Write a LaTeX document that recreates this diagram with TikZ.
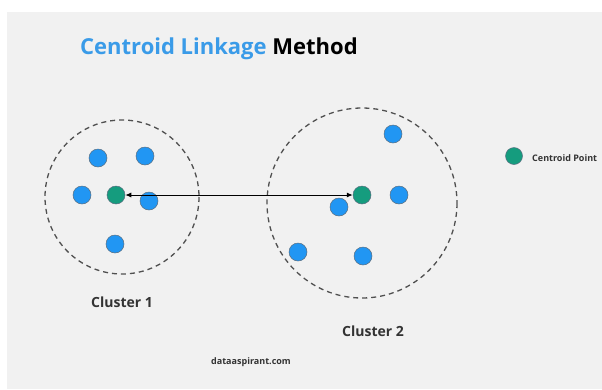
\documentclass[tikz,border=0pt]{standalone}
\usepackage{fontspec}
\setmainfont{Open Sans}
\usetikzlibrary{arrows.meta}
\definecolor{bg}{HTML}{F1F1F1}
\definecolor{ptblue}{HTML}{2196F3}
\definecolor{ptgreen}{HTML}{159C7E}
\definecolor{ttlblue}{HTML}{3A9BE8}
\definecolor{dotline}{HTML}{5A6E80}
\definecolor{lbl}{HTML}{333333}
\tikzset{
  pt/.style={circle, fill=ptblue, draw=dotline, line width=0.5pt, minimum size=18pt, inner sep=0pt},
  cpt/.style={pt, fill=ptgreen},
  cluster/.style={draw={rgb,255:red,80;green,80;blue,80}, line width=1.3pt, dash pattern=on 5pt off 4pt},
  lab/.style={font=\bfseries, text=lbl, inner sep=0pt},
}
\begin{document}
\begin{tikzpicture}[x=1pt,y=-1pt]
\useasboundingbox (0,0) rectangle (602,389);
\fill[white] (0,0) rectangle (602,389);
\fill[bg] (7,12) rectangle (602,389);
% title
\node[inner sep=0pt, font=\bfseries\fontsize{22}{26}\selectfont, anchor=west] (title) at (80,49) {\textcolor{ttlblue}{Centroid Linkage} \textcolor{black}{Method}};
% clusters
\draw[cluster] (122,197) circle (77);
\draw[cluster] (362,203) circle (95);
% cluster 1 points
\node[pt] (a1) at (98,158) {};
\node[pt] (a2) at (145,156) {};
\node[pt] (a3) at (82,195) {};
\node[cpt] (c1) at (116,195) {};
\node[pt] (a4) at (149,201) {};
\node[pt] (a5) at (115,244) {};
% cluster 2 points
\node[pt] (b1) at (393,134) {};
\node[cpt] (c2) at (362,195) {};
\node[pt] (b2) at (399,195) {};
\node[pt] (b3) at (339,207) {};
\node[pt] (b4) at (298,252) {};
\node[pt] (b5) at (363,256) {};
% link
\draw[{Latex[length=6pt,width=5pt]}-{Latex[length=6pt,width=5pt]}, line width=0.9pt] (c1.east) -- (c2.west);
% labels
\node[lab, font=\bfseries\fontsize{14}{16}\selectfont] (l1) at (122,302) {Cluster 1};
\node[lab, font=\bfseries\fontsize{14}{16}\selectfont] (l2) at (373,331) {Cluster 2};
% legend
\node[cpt, minimum size=17pt] (leg) at (514,156) {};
\node[lab, font=\bfseries\fontsize{9}{11}\selectfont, anchor=west] (legt) at (532,158) {Centroid Point};
% footer
\node[lab, font=\bfseries\fontsize{9}{11}\selectfont] (foot) at (251,362) {dataaspirant.com};
\end{tikzpicture}
\end{document}
